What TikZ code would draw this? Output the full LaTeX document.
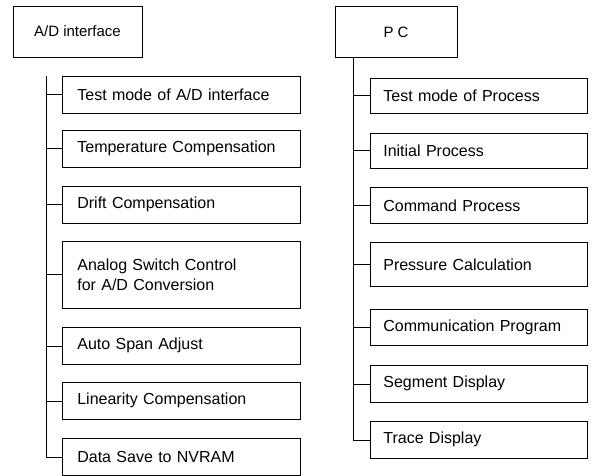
\documentclass[tikz,border=0pt]{standalone}
\usepackage{fontspec}
\setmainfont{Liberation Sans}
\tikzset{
  head/.style={draw, line width=0.7pt, font=\fontsize{15}{17}\selectfont},
  task/.style={draw, line width=0.7pt, anchor=north west, align=left,
    inner xsep=15pt, text width=208pt, minimum height=37pt,
    font=\fontsize{16}{20}\selectfont},
  ptask/.style={task, inner xsep=13pt, text width=191pt},
  tree/.style={line width=0.7pt},
}

\begin{document}
\begin{tikzpicture}[x=1pt, y=-1pt]
  \useasboundingbox (0,0) rectangle (598,476);

  % left column
  \node[head, minimum width=129pt, minimum height=51pt] (ad) at (77.5,31.5) {A/D interface};
  \node[task] (a1) at (62,76) {Test mode of A/D interface};
  \node[task] (a2) at (62,130) {Temperature Compensation};
  \node[task] (a3) at (62,186) {Drift Compensation};
  \node[task, minimum height=67pt] (a4) at (62,241) {Analog Switch Control\\for A/D Conversion};
  \node[task] (a5) at (62,327) {Auto Span Adjust};
  \node[task] (a6) at (62,382) {Linearity Compensation};
  \node[task] (a7) at (62,438) {Data Save to NVRAM};

  \coordinate (lt) at (46,76);
  \draw[tree] (lt) |- (a7.west);
  \foreach \n in {a1,a2,a3,a4,a5,a6}
    \draw[tree] (lt |- \n.west) -- (\n.west);

  % right column
  \node[head, minimum width=122pt, minimum height=51pt] (pc) at (396,32) {P C};
  \node[ptask, minimum height=35pt] (p1) at (370,78) {Test mode of Process};
  \node[ptask, minimum height=35pt] (p2) at (370,133) {Initial Process};
  \node[ptask, minimum height=36pt] (p3) at (370,187) {Command Process};
  \node[ptask, minimum height=44pt] (p4) at (370,242) {Pressure Calculation};
  \node[ptask, minimum height=36pt] (p5) at (370,309) {Communication Program};
  \node[ptask] (p6) at (370,365) {Segment Display};
  \node[ptask] (p7) at (370,421) {Trace Display};

  \coordinate (rt) at (353,57.5);
  \draw[tree] (rt) |- (p7.west);
  \foreach \n in {p1,p2,p3,p4,p5,p6}
    \draw[tree] (rt |- \n.west) -- (\n.west);
\end{tikzpicture}
\end{document}
